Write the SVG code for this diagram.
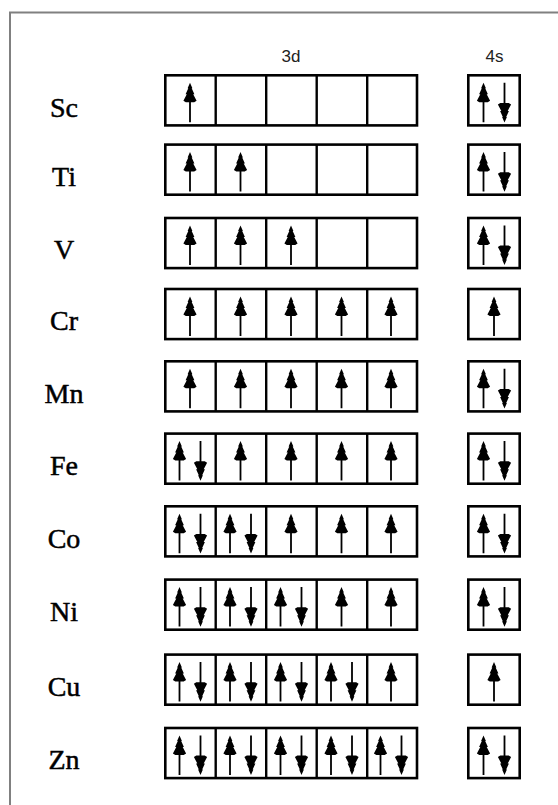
<svg xmlns="http://www.w3.org/2000/svg" width="558" height="805" viewBox="0 0 558 805">
<style>
.frame{fill:none;stroke:#808080;stroke-width:2}
.box{fill:#fff;stroke:#000;stroke-width:2.6}
.div{stroke:#000;stroke-width:2.4}
.el{font-family:"Liberation Serif","Times New Roman",serif;font-size:28px;fill:#000;stroke:#000;stroke-width:0.5;text-anchor:middle}
.hd{font-family:"Liberation Sans",Arial,sans-serif;font-size:17px;fill:#222;text-anchor:middle}
</style>
<defs>
<path id="up" fill="#000" d="M0,0 L2.4,5.5 L1.7,5.5 L4.4,11.5 L3.2,11.5 L6.6,18 L4.2,19.5 L0.9,19.5 L0.9,39.6 L-0.9,39.6 L-0.9,19.5 L-4.2,19.5 L-6.6,18 L-3.2,11.5 L-4.4,11.5 L-1.7,5.5 L-2.4,5.5 Z"/>
<g id="shell3d">
<rect class="box" x="165.3" y="1.3" width="251.7" height="50.1"/>
<line class="div" x1="215.7" y1="1.3" x2="215.7" y2="51.4"/>
<line class="div" x1="266.2" y1="1.3" x2="266.2" y2="51.4"/>
<line class="div" x1="316.7" y1="1.3" x2="316.7" y2="51.4"/>
<line class="div" x1="367.2" y1="1.3" x2="367.2" y2="51.4"/>
</g>
<rect id="shell4s" class="box" x="468.3" y="1.3" width="51.4" height="50.1"/>
<g id="u"><use href="#up" y="8.7"/></g>
<g id="p"><use href="#up" x="-10.5" y="8.7"/><use href="#up" transform="translate(10.5,48.4) scale(1,-1)"/></g>
</defs>
<path class="frame" d="M10,805 V12.5 H558"/>
<text class="hd" x="291" y="61.5">3d</text>
<text class="hd" x="494.5" y="61.5">4s</text>

<g id="Sc" transform="translate(0,74)">
<text class="el" x="64" y="42.5">Sc</text>
<use href="#shell3d"/><use href="#shell4s"/>
<use href="#u" x="190"/>
<use href="#p" x="494"/>
</g>
<g id="Ti" transform="translate(0,143.3)">
<text class="el" x="64" y="42.5">Ti</text>
<use href="#shell3d"/><use href="#shell4s"/>
<use href="#u" x="190"/><use href="#u" x="240.5"/>
<use href="#p" x="494"/>
</g>
<g id="V" transform="translate(0,216.7)">
<text class="el" x="64" y="42.5">V</text>
<use href="#shell3d"/><use href="#shell4s"/>
<use href="#u" x="190"/><use href="#u" x="240.5"/><use href="#u" x="291"/>
<use href="#p" x="494"/>
</g>
<g id="Cr" transform="translate(0,287.7)">
<text class="el" x="64" y="42.5">Cr</text>
<use href="#shell3d"/><use href="#shell4s"/>
<use href="#u" x="190"/><use href="#u" x="240.5"/><use href="#u" x="291"/><use href="#u" x="341.5"/><use href="#u" x="391"/>
<use href="#u" x="494"/>
</g>
<g id="Mn" transform="translate(0,360)">
<text class="el" x="64" y="42.5">Mn</text>
<use href="#shell3d"/><use href="#shell4s"/>
<use href="#u" x="190"/><use href="#u" x="240.5"/><use href="#u" x="291"/><use href="#u" x="341.5"/><use href="#u" x="391"/>
<use href="#p" x="494"/>
</g>
<g id="Fe" transform="translate(0,432.3)">
<text class="el" x="64" y="42.5">Fe</text>
<use href="#shell3d"/><use href="#shell4s"/>
<use href="#p" x="190"/><use href="#u" x="240.5"/><use href="#u" x="291"/><use href="#u" x="341.5"/><use href="#u" x="391"/>
<use href="#p" x="494"/>
</g>
<g id="Co" transform="translate(0,505)">
<text class="el" x="64" y="42.5">Co</text>
<use href="#shell3d"/><use href="#shell4s"/>
<use href="#p" x="190"/><use href="#p" x="240.5"/><use href="#u" x="291"/><use href="#u" x="341.5"/><use href="#u" x="391"/>
<use href="#p" x="494"/>
</g>
<g id="Ni" transform="translate(0,578.3)">
<text class="el" x="64" y="42.5">Ni</text>
<use href="#shell3d"/><use href="#shell4s"/>
<use href="#p" x="190"/><use href="#p" x="240.5"/><use href="#p" x="291"/><use href="#u" x="341.5"/><use href="#u" x="391"/>
<use href="#p" x="494"/>
</g>
<g id="Cu" transform="translate(0,653.3)">
<text class="el" x="64" y="42.5">Cu</text>
<use href="#shell3d"/><use href="#shell4s"/>
<use href="#p" x="190"/><use href="#p" x="240.5"/><use href="#p" x="291"/><use href="#p" x="341.5"/><use href="#u" x="391"/>
<use href="#u" x="494"/>
</g>
<g id="Zn" transform="translate(0,726.7)">
<text class="el" x="64" y="42.5">Zn</text>
<use href="#shell3d"/><use href="#shell4s"/>
<use href="#p" x="190"/><use href="#p" x="240.5"/><use href="#p" x="291"/><use href="#p" x="341.5"/><use href="#p" x="391"/>
<use href="#p" x="494"/>
</g>
</svg>
